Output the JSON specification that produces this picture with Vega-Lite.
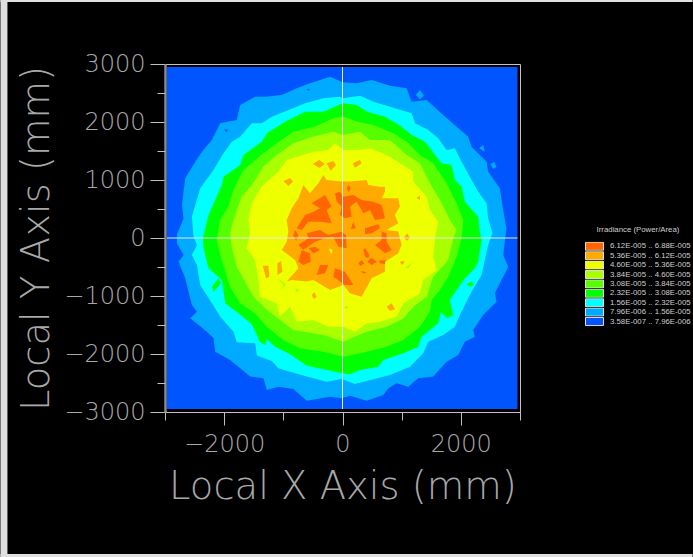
{"$schema":"https://vega.github.io/schema/vega-lite/v6.json","width":355,"height":348,"autosize":"none","padding":{"left":165,"top":64,"right":173,"bottom":145},"background":"#000000","view":{"stroke":"#c4c4c4","strokeWidth":1},"config":{"axis":{"grid":false}},"resolve":{"axis":{"x":"independent","y":"independent"}},"layer":[{"data":{"values":[{"x":-5781,"x2":-5663,"y":4103,"y2":-5500},{"x":-5781,"x2":5917,"y":4103,"y2":4069},{"x":-5781,"x2":5917,"y":-5448,"y2":-5500}]},"mark":{"type":"rect","color":"#e0e0e0"},"encoding":{"x":{"field":"x","type":"quantitative","scale":{"domain":[-3000,3000],"nice":false,"zero":false},"axis":null},"x2":{"field":"x2"},"y":{"field":"y","type":"quantitative","scale":{"domain":[-3000,3000],"nice":false,"zero":false},"axis":null},"y2":{"field":"y2"}}},{"data":{"values":[
{"band":1,"poly":1,"i":1,"x":-2966,"y":2948},{"band":1,"poly":1,"i":2,"x":2958,"y":2948},{"band":1,"poly":1,"i":3,"x":2958,"y":-2948},{"band":1,"poly":1,"i":4,"x":-2966,"y":-2948},
{"band":2,"poly":2,"i":1,"x":3,"y":2684},{"band":2,"poly":2,"i":2,"x":239,"y":2666},{"band":2,"poly":2,"i":3,"x":493,"y":2724},{"band":2,"poly":2,"i":4,"x":802,"y":2626},{"band":2,"poly":2,"i":5,"x":1083,"y":2580},{"band":2,"poly":2,"i":6,"x":1168,"y":2350},{"band":2,"poly":2,"i":7,"x":1421,"y":2379},{"band":2,"poly":2,"i":8,"x":1702,"y":2121},{"band":2,"poly":2,"i":9,"x":2124,"y":1747},{"band":2,"poly":2,"i":10,"x":2181,"y":1575},{"band":2,"poly":2,"i":11,"x":2434,"y":1316},{"band":2,"poly":2,"i":12,"x":2462,"y":1144},{"band":2,"poly":2,"i":13,"x":2659,"y":856},{"band":2,"poly":2,"i":14,"x":2715,"y":483},{"band":2,"poly":2,"i":15,"x":2771,"y":167},{"band":2,"poly":2,"i":16,"x":2743,"y":-63},{"band":2,"poly":2,"i":17,"x":2715,"y":-293},{"band":2,"poly":2,"i":18,"x":2800,"y":-494},{"band":2,"poly":2,"i":19,"x":2575,"y":-954},{"band":2,"poly":2,"i":20,"x":2603,"y":-1097},{"band":2,"poly":2,"i":21,"x":2378,"y":-1327},{"band":2,"poly":2,"i":22,"x":2209,"y":-1586},{"band":2,"poly":2,"i":23,"x":2237,"y":-1701},{"band":2,"poly":2,"i":24,"x":2068,"y":-1787},{"band":2,"poly":2,"i":25,"x":1956,"y":-2017},{"band":2,"poly":2,"i":26,"x":1759,"y":-2132},{"band":2,"poly":2,"i":27,"x":1534,"y":-2390},{"band":2,"poly":2,"i":28,"x":1280,"y":-2419},{"band":2,"poly":2,"i":29,"x":1112,"y":-2563},{"band":2,"poly":2,"i":30,"x":915,"y":-2505},{"band":2,"poly":2,"i":31,"x":774,"y":-2592},{"band":2,"poly":2,"i":32,"x":689,"y":-2707},{"band":2,"poly":2,"i":33,"x":408,"y":-2804},{"band":2,"poly":2,"i":34,"x":127,"y":-2718},{"band":2,"poly":2,"i":35,"x":-14,"y":-2764},{"band":2,"poly":2,"i":36,"x":-210,"y":-2735},{"band":2,"poly":2,"i":37,"x":-604,"y":-2804},{"band":2,"poly":2,"i":38,"x":-829,"y":-2603},{"band":2,"poly":2,"i":39,"x":-1083,"y":-2563},{"band":2,"poly":2,"i":40,"x":-1280,"y":-2620},{"band":2,"poly":2,"i":41,"x":-1336,"y":-2419},{"band":2,"poly":2,"i":42,"x":-1561,"y":-2390},{"band":2,"poly":2,"i":43,"x":-1730,"y":-2247},{"band":2,"poly":2,"i":44,"x":-1899,"y":-2103},{"band":2,"poly":2,"i":45,"x":-2152,"y":-1960},{"band":2,"poly":2,"i":46,"x":-2180,"y":-1730},{"band":2,"poly":2,"i":47,"x":-2292,"y":-1615},{"band":2,"poly":2,"i":48,"x":-2574,"y":-1385},{"band":2,"poly":2,"i":49,"x":-2461,"y":-1270},{"band":2,"poly":2,"i":50,"x":-2546,"y":-1155},{"band":2,"poly":2,"i":51,"x":-2658,"y":-695},{"band":2,"poly":2,"i":52,"x":-2771,"y":-408},{"band":2,"poly":2,"i":53,"x":-2686,"y":-293},{"band":2,"poly":2,"i":54,"x":-2799,"y":-92},{"band":2,"poly":2,"i":55,"x":-2799,"y":52},{"band":2,"poly":2,"i":56,"x":-2686,"y":339},{"band":2,"poly":2,"i":57,"x":-2714,"y":569},{"band":2,"poly":2,"i":58,"x":-2658,"y":1029},{"band":2,"poly":2,"i":59,"x":-2489,"y":1316},{"band":2,"poly":2,"i":60,"x":-2377,"y":1488},{"band":2,"poly":2,"i":61,"x":-2208,"y":1690},{"band":2,"poly":2,"i":62,"x":-2067,"y":1977},{"band":2,"poly":2,"i":63,"x":-1786,"y":2034},{"band":2,"poly":2,"i":64,"x":-1730,"y":2293},{"band":2,"poly":2,"i":65,"x":-1476,"y":2437},{"band":2,"poly":2,"i":66,"x":-1308,"y":2437},{"band":2,"poly":2,"i":67,"x":-1026,"y":2465},{"band":2,"poly":2,"i":68,"x":-773,"y":2580},{"band":2,"poly":2,"i":69,"x":-548,"y":2666},{"band":2,"poly":2,"i":70,"x":-210,"y":2781},
{"band":2,"poly":20,"i":1,"x":1241,"y":2465},{"band":2,"poly":20,"i":2,"x":1308,"y":2552},{"band":2,"poly":20,"i":3,"x":1376,"y":2454},{"band":2,"poly":20,"i":4,"x":1308,"y":2391},
{"band":2,"poly":21,"i":1,"x":2310,"y":1546},{"band":2,"poly":21,"i":2,"x":2377,"y":1603},{"band":2,"poly":21,"i":3,"x":2406,"y":1488},
{"band":2,"poly":22,"i":1,"x":2501,"y":1270},{"band":2,"poly":22,"i":2,"x":2558,"y":1316},{"band":2,"poly":22,"i":3,"x":2603,"y":1230},{"band":2,"poly":22,"i":4,"x":2546,"y":1190},
{"band":1,"poly":23,"i":1,"x":-2000,"y":1879},{"band":1,"poly":23,"i":2,"x":-1927,"y":1862},{"band":1,"poly":23,"i":3,"x":-1966,"y":1827},
{"band":1,"poly":24,"i":1,"x":-604,"y":2563},{"band":1,"poly":24,"i":2,"x":-548,"y":2563},{"band":1,"poly":24,"i":3,"x":-576,"y":2534},
{"band":3,"poly":3,"i":1,"x":3,"y":2408},{"band":3,"poly":3,"i":2,"x":296,"y":2454},{"band":3,"poly":3,"i":3,"x":521,"y":2350},{"band":3,"poly":3,"i":4,"x":802,"y":2264},{"band":3,"poly":3,"i":5,"x":1168,"y":2149},{"band":3,"poly":3,"i":6,"x":1224,"y":1977},{"band":3,"poly":3,"i":7,"x":1449,"y":1862},{"band":3,"poly":3,"i":8,"x":1618,"y":1718},{"band":3,"poly":3,"i":9,"x":1759,"y":1517},{"band":3,"poly":3,"i":10,"x":1899,"y":1546},{"band":3,"poly":3,"i":11,"x":2012,"y":1316},{"band":3,"poly":3,"i":12,"x":2181,"y":1000},{"band":3,"poly":3,"i":13,"x":2293,"y":799},{"band":3,"poly":3,"i":14,"x":2434,"y":598},{"band":3,"poly":3,"i":15,"x":2462,"y":339},{"band":3,"poly":3,"i":16,"x":2535,"y":80},{"band":3,"poly":3,"i":17,"x":2462,"y":-120},{"band":3,"poly":3,"i":18,"x":2350,"y":-638},{"band":3,"poly":3,"i":19,"x":2181,"y":-925},{"band":3,"poly":3,"i":20,"x":1984,"y":-1327},{"band":3,"poly":3,"i":21,"x":1899,"y":-1529},{"band":3,"poly":3,"i":22,"x":1702,"y":-1672},{"band":3,"poly":3,"i":23,"x":1449,"y":-1787},{"band":3,"poly":3,"i":24,"x":1365,"y":-1988},{"band":3,"poly":3,"i":25,"x":1140,"y":-2218},{"band":3,"poly":3,"i":26,"x":802,"y":-2362},{"band":3,"poly":3,"i":27,"x":408,"y":-2465},{"band":3,"poly":3,"i":28,"x":211,"y":-2517},{"band":3,"poly":3,"i":29,"x":-14,"y":-2431},{"band":3,"poly":3,"i":30,"x":-267,"y":-2477},{"band":3,"poly":3,"i":31,"x":-604,"y":-2390},{"band":3,"poly":3,"i":32,"x":-886,"y":-2304},{"band":3,"poly":3,"i":33,"x":-1083,"y":-2247},{"band":3,"poly":3,"i":34,"x":-1195,"y":-2120},{"band":3,"poly":3,"i":35,"x":-1448,"y":-2028},{"band":3,"poly":3,"i":36,"x":-1476,"y":-1816},{"band":3,"poly":3,"i":37,"x":-1786,"y":-1799},{"band":3,"poly":3,"i":38,"x":-1842,"y":-1615},{"band":3,"poly":3,"i":39,"x":-2067,"y":-1356},{"band":3,"poly":3,"i":40,"x":-2180,"y":-1166},{"band":3,"poly":3,"i":41,"x":-2405,"y":-810},{"band":3,"poly":3,"i":42,"x":-2461,"y":-465},{"band":3,"poly":3,"i":43,"x":-2546,"y":-293},{"band":3,"poly":3,"i":44,"x":-2461,"y":-120},{"band":3,"poly":3,"i":45,"x":-2517,"y":23},{"band":3,"poly":3,"i":46,"x":-2546,"y":368},{"band":3,"poly":3,"i":47,"x":-2405,"y":856},{"band":3,"poly":3,"i":48,"x":-2180,"y":1172},{"band":3,"poly":3,"i":49,"x":-2011,"y":1460},{"band":3,"poly":3,"i":50,"x":-1870,"y":1661},{"band":3,"poly":3,"i":51,"x":-1730,"y":1747},{"band":3,"poly":3,"i":52,"x":-1533,"y":1977},{"band":3,"poly":3,"i":53,"x":-1364,"y":1977},{"band":3,"poly":3,"i":54,"x":-1195,"y":2092},{"band":3,"poly":3,"i":55,"x":-914,"y":2207},{"band":3,"poly":3,"i":56,"x":-632,"y":2322},{"band":3,"poly":3,"i":57,"x":-323,"y":2408},{"band":3,"poly":3,"i":58,"x":-42,"y":2437},
{"band":4,"poly":4,"i":1,"x":3,"y":2322},{"band":4,"poly":4,"i":2,"x":239,"y":2293},{"band":4,"poly":4,"i":3,"x":436,"y":2166},{"band":4,"poly":4,"i":4,"x":718,"y":2092},{"band":4,"poly":4,"i":5,"x":999,"y":1919},{"band":4,"poly":4,"i":6,"x":1168,"y":1776},{"band":4,"poly":4,"i":7,"x":1393,"y":1661},{"band":4,"poly":4,"i":8,"x":1674,"y":1287},{"band":4,"poly":4,"i":9,"x":1843,"y":1259},{"band":4,"poly":4,"i":10,"x":1899,"y":1000},{"band":4,"poly":4,"i":11,"x":2012,"y":885},{"band":4,"poly":4,"i":12,"x":2068,"y":626},{"band":4,"poly":4,"i":13,"x":2293,"y":368},{"band":4,"poly":4,"i":14,"x":2321,"y":109},{"band":4,"poly":4,"i":15,"x":2350,"y":-34},{"band":4,"poly":4,"i":16,"x":2293,"y":-408},{"band":4,"poly":4,"i":17,"x":2237,"y":-523},{"band":4,"poly":4,"i":18,"x":2068,"y":-695},{"band":4,"poly":4,"i":19,"x":1928,"y":-896},{"band":4,"poly":4,"i":20,"x":1815,"y":-1069},{"band":4,"poly":4,"i":21,"x":1871,"y":-1327},{"band":4,"poly":4,"i":22,"x":1770,"y":-1385},{"band":4,"poly":4,"i":23,"x":1663,"y":-1281},{"band":4,"poly":4,"i":24,"x":1618,"y":-1471},{"band":4,"poly":4,"i":25,"x":1337,"y":-1701},{"band":4,"poly":4,"i":26,"x":1280,"y":-1873},{"band":4,"poly":4,"i":27,"x":1027,"y":-1988},{"band":4,"poly":4,"i":28,"x":689,"y":-2103},{"band":4,"poly":4,"i":29,"x":605,"y":-2218},{"band":4,"poly":4,"i":30,"x":296,"y":-2276},{"band":4,"poly":4,"i":31,"x":127,"y":-2350},{"band":4,"poly":4,"i":32,"x":-14,"y":-2333},{"band":4,"poly":4,"i":33,"x":-323,"y":-2264},{"band":4,"poly":4,"i":34,"x":-604,"y":-2201},{"band":4,"poly":4,"i":35,"x":-914,"y":-1988},{"band":4,"poly":4,"i":36,"x":-1139,"y":-1873},{"band":4,"poly":4,"i":37,"x":-1280,"y":-1741},{"band":4,"poly":4,"i":38,"x":-1308,"y":-1845},{"band":4,"poly":4,"i":39,"x":-1392,"y":-1799},{"band":4,"poly":4,"i":40,"x":-1533,"y":-1488},{"band":4,"poly":4,"i":41,"x":-1758,"y":-1299},{"band":4,"poly":4,"i":42,"x":-1983,"y":-1126},{"band":4,"poly":4,"i":43,"x":-2039,"y":-724},{"band":4,"poly":4,"i":44,"x":-2264,"y":-523},{"band":4,"poly":4,"i":45,"x":-2349,"y":-178},{"band":4,"poly":4,"i":46,"x":-2360,"y":-5},{"band":4,"poly":4,"i":47,"x":-2264,"y":396},{"band":4,"poly":4,"i":48,"x":-2039,"y":914},{"band":4,"poly":4,"i":49,"x":-2011,"y":1057},{"band":4,"poly":4,"i":50,"x":-1730,"y":1258},{"band":4,"poly":4,"i":51,"x":-1673,"y":1431},{"band":4,"poly":4,"i":52,"x":-1364,"y":1661},{"band":4,"poly":4,"i":53,"x":-1279,"y":1804},{"band":4,"poly":4,"i":54,"x":-970,"y":2006},{"band":4,"poly":4,"i":55,"x":-632,"y":2178},{"band":4,"poly":4,"i":56,"x":-323,"y":2178},
{"band":4,"poly":30,"i":1,"x":-2208,"y":-839},{"band":4,"poly":30,"i":2,"x":-2095,"y":-695},{"band":4,"poly":30,"i":3,"x":-2056,"y":-781},{"band":4,"poly":30,"i":4,"x":-2180,"y":-925},
{"band":4,"poly":31,"i":1,"x":2096,"y":-799},{"band":4,"poly":31,"i":2,"x":2181,"y":-753},{"band":4,"poly":31,"i":3,"x":2220,"y":-810},{"band":4,"poly":31,"i":4,"x":2153,"y":-839},
{"band":5,"poly":5,"i":1,"x":14,"y":2093},{"band":5,"poly":5,"i":2,"x":239,"y":2007},{"band":5,"poly":5,"i":3,"x":521,"y":1949},{"band":5,"poly":5,"i":4,"x":859,"y":1806},{"band":5,"poly":5,"i":5,"x":1084,"y":1662},{"band":5,"poly":5,"i":6,"x":1309,"y":1432},{"band":5,"poly":5,"i":7,"x":1534,"y":1288},{"band":5,"poly":5,"i":8,"x":1759,"y":943},{"band":5,"poly":5,"i":9,"x":1928,"y":598},{"band":5,"poly":5,"i":10,"x":2041,"y":311},{"band":5,"poly":5,"i":11,"x":2013,"y":0},{"band":5,"poly":5,"i":12,"x":1928,"y":-322},{"band":5,"poly":5,"i":13,"x":1788,"y":-667},{"band":5,"poly":5,"i":14,"x":1647,"y":-897},{"band":5,"poly":5,"i":15,"x":1506,"y":-1070},{"band":5,"poly":5,"i":16,"x":1478,"y":-1271},{"band":5,"poly":5,"i":17,"x":1309,"y":-1530},{"band":5,"poly":5,"i":18,"x":1028,"y":-1760},{"band":5,"poly":5,"i":19,"x":746,"y":-1875},{"band":5,"poly":5,"i":20,"x":408,"y":-1961},{"band":5,"poly":5,"i":21,"x":14,"y":-2047},{"band":5,"poly":5,"i":22,"x":-324,"y":-1961},{"band":5,"poly":5,"i":23,"x":-718,"y":-1903},{"band":5,"poly":5,"i":24,"x":-999,"y":-1760},{"band":5,"poly":5,"i":25,"x":-1281,"y":-1530},{"band":5,"poly":5,"i":26,"x":-1478,"y":-1300},{"band":5,"poly":5,"i":27,"x":-1731,"y":-1127},{"band":5,"poly":5,"i":28,"x":-1900,"y":-840},{"band":5,"poly":5,"i":29,"x":-2041,"y":-380},{"band":5,"poly":5,"i":30,"x":-2125,"y":-35},{"band":5,"poly":5,"i":31,"x":-2069,"y":311},{"band":5,"poly":5,"i":32,"x":-1928,"y":541},{"band":5,"poly":5,"i":33,"x":-1844,"y":828},{"band":5,"poly":5,"i":34,"x":-1675,"y":1173},{"band":5,"poly":5,"i":35,"x":-1337,"y":1461},{"band":5,"poly":5,"i":36,"x":-1112,"y":1633},{"band":5,"poly":5,"i":37,"x":-830,"y":1834},{"band":5,"poly":5,"i":38,"x":-464,"y":1921},{"band":5,"poly":5,"i":39,"x":-155,"y":2064},
{"band":6,"poly":6,"i":1,"x":14,"y":1777},{"band":6,"poly":6,"i":2,"x":296,"y":1834},{"band":6,"poly":6,"i":3,"x":464,"y":1691},{"band":6,"poly":6,"i":4,"x":802,"y":1691},{"band":6,"poly":6,"i":5,"x":1084,"y":1432},{"band":6,"poly":6,"i":6,"x":1309,"y":1288},{"band":6,"poly":6,"i":7,"x":1478,"y":943},{"band":6,"poly":6,"i":8,"x":1647,"y":656},{"band":6,"poly":6,"i":9,"x":1816,"y":311},{"band":6,"poly":6,"i":10,"x":1928,"y":138},{"band":6,"poly":6,"i":11,"x":1872,"y":0},{"band":6,"poly":6,"i":12,"x":1788,"y":-380},{"band":6,"poly":6,"i":13,"x":1534,"y":-667},{"band":6,"poly":6,"i":14,"x":1422,"y":-1012},{"band":6,"poly":6,"i":15,"x":1196,"y":-1185},{"band":6,"poly":6,"i":16,"x":1028,"y":-1386},{"band":6,"poly":6,"i":17,"x":746,"y":-1530},{"band":6,"poly":6,"i":18,"x":408,"y":-1616},{"band":6,"poly":6,"i":19,"x":14,"y":-1788},{"band":6,"poly":6,"i":20,"x":-324,"y":-1673},{"band":6,"poly":6,"i":21,"x":-830,"y":-1587},{"band":6,"poly":6,"i":22,"x":-1056,"y":-1415},{"band":6,"poly":6,"i":23,"x":-1337,"y":-1185},{"band":6,"poly":6,"i":24,"x":-1506,"y":-1012},{"band":6,"poly":6,"i":25,"x":-1788,"y":-495},{"band":6,"poly":6,"i":26,"x":-1872,"y":-150},{"band":6,"poly":6,"i":27,"x":-1900,"y":81},{"band":6,"poly":6,"i":28,"x":-1844,"y":311},{"band":6,"poly":6,"i":29,"x":-1703,"y":713},{"band":6,"poly":6,"i":30,"x":-1534,"y":914},{"band":6,"poly":6,"i":31,"x":-1337,"y":1231},{"band":6,"poly":6,"i":32,"x":-1112,"y":1432},{"band":6,"poly":6,"i":33,"x":-830,"y":1633},{"band":6,"poly":6,"i":34,"x":-493,"y":1748},{"band":6,"poly":6,"i":35,"x":-155,"y":1834},
{"band":7,"poly":7,"i":1,"x":-127,"y":1633},{"band":7,"poly":7,"i":2,"x":14,"y":1518},{"band":7,"poly":7,"i":3,"x":239,"y":1518},{"band":7,"poly":7,"i":4,"x":464,"y":1547},{"band":7,"poly":7,"i":5,"x":746,"y":1432},{"band":7,"poly":7,"i":6,"x":971,"y":1288},{"band":7,"poly":7,"i":7,"x":1196,"y":1144},{"band":7,"poly":7,"i":8,"x":1196,"y":972},{"band":7,"poly":7,"i":9,"x":1422,"y":713},{"band":7,"poly":7,"i":10,"x":1478,"y":483},{"band":7,"poly":7,"i":11,"x":1619,"y":282},{"band":7,"poly":7,"i":12,"x":1562,"y":0},{"band":7,"poly":7,"i":13,"x":1534,"y":-322},{"band":7,"poly":7,"i":14,"x":1591,"y":-552},{"band":7,"poly":7,"i":15,"x":1365,"y":-725},{"band":7,"poly":7,"i":16,"x":1309,"y":-955},{"band":7,"poly":7,"i":17,"x":1028,"y":-1127},{"band":7,"poly":7,"i":18,"x":915,"y":-1357},{"band":7,"poly":7,"i":19,"x":633,"y":-1443},{"band":7,"poly":7,"i":20,"x":408,"y":-1472},{"band":7,"poly":7,"i":21,"x":211,"y":-1616},{"band":7,"poly":7,"i":22,"x":14,"y":-1530},{"band":7,"poly":7,"i":23,"x":-239,"y":-1530},{"band":7,"poly":7,"i":24,"x":-493,"y":-1415},{"band":7,"poly":7,"i":25,"x":-774,"y":-1443},{"band":7,"poly":7,"i":26,"x":-887,"y":-1185},{"band":7,"poly":7,"i":27,"x":-1056,"y":-1357},{"band":7,"poly":7,"i":28,"x":-1112,"y":-1127},{"band":7,"poly":7,"i":29,"x":-1393,"y":-1012},{"band":7,"poly":7,"i":30,"x":-1422,"y":-725},{"band":7,"poly":7,"i":31,"x":-1478,"y":-380},{"band":7,"poly":7,"i":32,"x":-1619,"y":-178},{"band":7,"poly":7,"i":33,"x":-1562,"y":81},{"band":7,"poly":7,"i":34,"x":-1591,"y":311},{"band":7,"poly":7,"i":35,"x":-1534,"y":598},{"band":7,"poly":7,"i":36,"x":-1365,"y":886},{"band":7,"poly":7,"i":37,"x":-1084,"y":1144},{"band":7,"poly":7,"i":38,"x":-943,"y":1346},{"band":7,"poly":7,"i":39,"x":-493,"y":1489},{"band":7,"poly":7,"i":40,"x":-239,"y":1518},
{"band":6,"poly":40,"i":1,"x":-1101,"y":-695},{"band":6,"poly":40,"i":2,"x":-954,"y":-799},{"band":6,"poly":40,"i":3,"x":-1056,"y":-908},{"band":6,"poly":40,"i":4,"x":-999,"y":-810},
{"band":6,"poly":41,"i":1,"x":-802,"y":-868},{"band":6,"poly":41,"i":2,"x":-729,"y":-897},{"band":6,"poly":41,"i":3,"x":-774,"y":-943},
{"band":6,"poly":42,"i":1,"x":1056,"y":-523},{"band":6,"poly":42,"i":2,"x":1196,"y":-408},{"band":6,"poly":42,"i":3,"x":1112,"y":-523},
{"band":6,"poly":43,"i":1,"x":42,"y":-1173},{"band":6,"poly":43,"i":2,"x":110,"y":-1196},{"band":6,"poly":43,"i":3,"x":42,"y":-1225},
{"band":8,"poly":8,"i":1,"x":-324,"y":1087},{"band":8,"poly":8,"i":2,"x":-267,"y":1000},{"band":8,"poly":8,"i":3,"x":-14,"y":972},{"band":8,"poly":8,"i":4,"x":126,"y":972},{"band":8,"poly":8,"i":5,"x":408,"y":1000},{"band":8,"poly":8,"i":6,"x":436,"y":914},{"band":8,"poly":8,"i":7,"x":633,"y":885},{"band":8,"poly":8,"i":8,"x":717,"y":885},{"band":8,"poly":8,"i":9,"x":717,"y":799},{"band":8,"poly":8,"i":10,"x":661,"y":684},{"band":8,"poly":8,"i":11,"x":942,"y":684},{"band":8,"poly":8,"i":12,"x":970,"y":541},{"band":8,"poly":8,"i":13,"x":886,"y":397},{"band":8,"poly":8,"i":14,"x":942,"y":253},{"band":8,"poly":8,"i":15,"x":745,"y":138},{"band":8,"poly":8,"i":16,"x":942,"y":110},{"band":8,"poly":8,"i":17,"x":999,"y":-120},{"band":8,"poly":8,"i":18,"x":942,"y":-264},{"band":8,"poly":8,"i":19,"x":717,"y":-408},{"band":8,"poly":8,"i":20,"x":717,"y":-580},{"band":8,"poly":8,"i":21,"x":492,"y":-695},{"band":8,"poly":8,"i":22,"x":323,"y":-1011},{"band":8,"poly":8,"i":23,"x":126,"y":-954},{"band":8,"poly":8,"i":24,"x":14,"y":-810},{"band":8,"poly":8,"i":25,"x":-211,"y":-896},{"band":8,"poly":8,"i":26,"x":-493,"y":-724},{"band":8,"poly":8,"i":27,"x":-605,"y":-752},{"band":8,"poly":8,"i":28,"x":-858,"y":-724},{"band":8,"poly":8,"i":29,"x":-943,"y":-752},{"band":8,"poly":8,"i":30,"x":-746,"y":-522},{"band":8,"poly":8,"i":31,"x":-802,"y":-379},{"band":8,"poly":8,"i":32,"x":-1027,"y":-206},{"band":8,"poly":8,"i":33,"x":-943,"y":-63},{"band":8,"poly":8,"i":34,"x":-915,"y":110},{"band":8,"poly":8,"i":35,"x":-943,"y":311},{"band":8,"poly":8,"i":36,"x":-858,"y":512},{"band":8,"poly":8,"i":37,"x":-746,"y":684},{"band":8,"poly":8,"i":38,"x":-661,"y":914},{"band":8,"poly":8,"i":39,"x":-549,"y":770},{"band":8,"poly":8,"i":40,"x":-408,"y":943},
{"band":8,"poly":50,"i":1,"x":-504,"y":1277},{"band":8,"poly":50,"i":2,"x":-391,"y":1346},{"band":8,"poly":50,"i":3,"x":-296,"y":1277},{"band":8,"poly":50,"i":4,"x":-391,"y":1213},
{"band":8,"poly":51,"i":1,"x":-267,"y":1288},{"band":8,"poly":51,"i":2,"x":-155,"y":1328},{"band":8,"poly":51,"i":3,"x":-110,"y":1259},{"band":8,"poly":51,"i":4,"x":-200,"y":1156},
{"band":8,"poly":52,"i":1,"x":172,"y":1288},{"band":8,"poly":52,"i":2,"x":296,"y":1346},{"band":8,"poly":52,"i":3,"x":324,"y":1288},{"band":8,"poly":52,"i":4,"x":211,"y":1213},
{"band":8,"poly":53,"i":1,"x":-999,"y":983},{"band":8,"poly":53,"i":2,"x":-887,"y":1029},{"band":8,"poly":53,"i":3,"x":-836,"y":972},{"band":8,"poly":53,"i":4,"x":-915,"y":897},
{"band":8,"poly":54,"i":1,"x":-1348,"y":-477},{"band":8,"poly":54,"i":2,"x":-1253,"y":-477},{"band":8,"poly":54,"i":3,"x":-1237,"y":-667},{"band":8,"poly":54,"i":4,"x":-1292,"y":-696},
{"band":8,"poly":55,"i":1,"x":-1101,"y":-437},{"band":8,"poly":55,"i":2,"x":-1039,"y":-397},{"band":8,"poly":55,"i":3,"x":-1016,"y":-581},{"band":8,"poly":55,"i":4,"x":-1101,"y":-638},
{"band":8,"poly":56,"i":1,"x":746,"y":-1185},{"band":8,"poly":56,"i":2,"x":830,"y":-1127},{"band":8,"poly":56,"i":3,"x":887,"y":-1231},{"band":8,"poly":56,"i":4,"x":802,"y":-1254},
{"band":8,"poly":57,"i":1,"x":-521,"y":-983},{"band":8,"poly":57,"i":2,"x":-476,"y":-937},{"band":8,"poly":57,"i":3,"x":-436,"y":-1012},{"band":8,"poly":57,"i":4,"x":-481,"y":-1052},
{"band":8,"poly":58,"i":1,"x":971,"y":-408},{"band":8,"poly":58,"i":2,"x":1040,"y":-391},{"band":8,"poly":58,"i":3,"x":1040,"y":-437},{"band":8,"poly":58,"i":4,"x":996,"y":-466},
{"band":8,"poly":59,"i":1,"x":1040,"y":12},{"band":8,"poly":59,"i":2,"x":1096,"y":81},{"band":8,"poly":59,"i":3,"x":1140,"y":-6},{"band":8,"poly":59,"i":4,"x":1084,"y":-46},
{"band":8,"poly":60,"i":1,"x":1253,"y":684},{"band":8,"poly":60,"i":2,"x":1309,"y":742},{"band":8,"poly":60,"i":3,"x":1309,"y":656},
{"band":9,"poly":9,"i":1,"x":-296,"y":742},{"band":9,"poly":9,"i":2,"x":-183,"y":541},{"band":9,"poly":9,"i":3,"x":-267,"y":483},{"band":9,"poly":9,"i":4,"x":-183,"y":253},{"band":9,"poly":9,"i":5,"x":-380,"y":282},{"band":9,"poly":9,"i":6,"x":-577,"y":282},{"band":9,"poly":9,"i":7,"x":-689,"y":138},{"band":9,"poly":9,"i":8,"x":-774,"y":167},{"band":9,"poly":9,"i":9,"x":-633,"y":397},{"band":9,"poly":9,"i":10,"x":-492,"y":454},{"band":9,"poly":9,"i":11,"x":-380,"y":512},{"band":9,"poly":9,"i":12,"x":-521,"y":598},
{"band":9,"poly":70,"i":1,"x":-127,"y":770},{"band":9,"poly":70,"i":2,"x":-42,"y":799},{"band":9,"poly":70,"i":3,"x":14,"y":713},{"band":9,"poly":70,"i":4,"x":183,"y":742},{"band":9,"poly":70,"i":5,"x":323,"y":656},{"band":9,"poly":70,"i":6,"x":520,"y":627},{"band":9,"poly":70,"i":7,"x":661,"y":569},{"band":9,"poly":70,"i":8,"x":717,"y":339},{"band":9,"poly":70,"i":9,"x":549,"y":311},{"band":9,"poly":70,"i":10,"x":464,"y":483},{"band":9,"poly":70,"i":11,"x":352,"y":426},{"band":9,"poly":70,"i":12,"x":239,"y":627},{"band":9,"poly":70,"i":13,"x":126,"y":541},{"band":9,"poly":70,"i":14,"x":155,"y":368},{"band":9,"poly":70,"i":15,"x":42,"y":339},{"band":9,"poly":70,"i":16,"x":-42,"y":397},{"band":9,"poly":70,"i":17,"x":-14,"y":541},{"band":9,"poly":70,"i":18,"x":-98,"y":627},
{"band":9,"poly":71,"i":1,"x":-605,"y":81},{"band":9,"poly":71,"i":2,"x":-380,"y":138},{"band":9,"poly":71,"i":3,"x":-239,"y":52},{"band":9,"poly":71,"i":4,"x":-14,"y":109},{"band":9,"poly":71,"i":5,"x":59,"y":52},{"band":9,"poly":71,"i":6,"x":70,"y":-178},{"band":9,"poly":71,"i":7,"x":-70,"y":-149},{"band":9,"poly":71,"i":8,"x":-155,"y":23},{"band":9,"poly":71,"i":9,"x":-296,"y":-5},{"band":9,"poly":71,"i":10,"x":-464,"y":-63},{"band":9,"poly":71,"i":11,"x":-661,"y":-206},{"band":9,"poly":71,"i":12,"x":-746,"y":-120},{"band":9,"poly":71,"i":13,"x":-577,"y":-5},
{"band":9,"poly":72,"i":1,"x":-689,"y":-206},{"band":9,"poly":72,"i":2,"x":-549,"y":-264},{"band":9,"poly":72,"i":3,"x":-538,"y":-408},{"band":9,"poly":72,"i":4,"x":-661,"y":-465},{"band":9,"poly":72,"i":5,"x":-746,"y":-408},
{"band":9,"poly":73,"i":1,"x":-577,"y":-178},{"band":9,"poly":73,"i":2,"x":-464,"y":-149},{"band":9,"poly":73,"i":3,"x":-380,"y":-206},{"band":9,"poly":73,"i":4,"x":-492,"y":-264},
{"band":9,"poly":74,"i":1,"x":-380,"y":-465},{"band":9,"poly":74,"i":2,"x":-239,"y":-465},{"band":9,"poly":74,"i":3,"x":-296,"y":-609},{"band":9,"poly":74,"i":4,"x":-436,"y":-637},
{"band":9,"poly":75,"i":1,"x":-127,"y":-523},{"band":9,"poly":75,"i":2,"x":42,"y":-580},{"band":9,"poly":75,"i":3,"x":183,"y":-810},{"band":9,"poly":75,"i":4,"x":42,"y":-810},{"band":9,"poly":75,"i":5,"x":-155,"y":-666},
{"band":9,"poly":76,"i":1,"x":661,"y":110},{"band":9,"poly":76,"i":2,"x":745,"y":81},{"band":9,"poly":76,"i":3,"x":745,"y":-63},{"band":9,"poly":76,"i":4,"x":830,"y":-206},{"band":9,"poly":76,"i":5,"x":717,"y":-264},{"band":9,"poly":76,"i":6,"x":549,"y":-120},{"band":9,"poly":76,"i":7,"x":661,"y":-34},
{"band":9,"poly":77,"i":1,"x":380,"y":167},{"band":9,"poly":77,"i":2,"x":605,"y":236},{"band":9,"poly":77,"i":3,"x":633,"y":167},{"band":9,"poly":77,"i":4,"x":492,"y":81},{"band":9,"poly":77,"i":5,"x":380,"y":63},
{"band":9,"poly":78,"i":1,"x":183,"y":282},{"band":9,"poly":78,"i":2,"x":222,"y":167},{"band":9,"poly":78,"i":3,"x":143,"y":156},
{"band":9,"poly":79,"i":1,"x":380,"y":-166},{"band":9,"poly":79,"i":2,"x":453,"y":-293},{"band":9,"poly":79,"i":3,"x":436,"y":-350},{"band":9,"poly":79,"i":4,"x":380,"y":-322},{"band":9,"poly":79,"i":5,"x":352,"y":-206},
{"band":9,"poly":80,"i":1,"x":492,"y":-339},{"band":9,"poly":80,"i":2,"x":577,"y":-408},{"band":9,"poly":80,"i":3,"x":492,"y":-465},{"band":9,"poly":80,"i":4,"x":419,"y":-408},
{"band":9,"poly":81,"i":1,"x":323,"y":-379},{"band":9,"poly":81,"i":2,"x":368,"y":-436},{"band":9,"poly":81,"i":3,"x":306,"y":-482},{"band":9,"poly":81,"i":4,"x":267,"y":-436},
{"band":9,"poly":82,"i":1,"x":622,"y":-390},{"band":9,"poly":82,"i":2,"x":729,"y":-379},{"band":9,"poly":82,"i":3,"x":717,"y":-448},{"band":9,"poly":82,"i":4,"x":633,"y":-436},
{"band":9,"poly":83,"i":1,"x":98,"y":914},{"band":9,"poly":83,"i":2,"x":143,"y":857},{"band":9,"poly":83,"i":3,"x":98,"y":799},{"band":9,"poly":83,"i":4,"x":70,"y":857},
{"band":9,"poly":84,"i":1,"x":-802,"y":138},{"band":9,"poly":84,"i":2,"x":-746,"y":52},{"band":9,"poly":84,"i":3,"x":-785,"y":-51},{"band":9,"poly":84,"i":4,"x":-830,"y":52},
{"band":9,"poly":85,"i":1,"x":306,"y":-569},{"band":9,"poly":85,"i":2,"x":408,"y":-592},{"band":9,"poly":85,"i":3,"x":352,"y":-615},
{"band":7,"poly":90,"i":1,"x":-222,"y":-178},{"band":7,"poly":90,"i":2,"x":-166,"y":-206},{"band":7,"poly":90,"i":3,"x":-183,"y":-281},{"band":7,"poly":90,"i":4,"x":-222,"y":-224}
]},"mark":{"type":"line","stroke":null,"filled":true},"encoding":{"x":{"field":"x","type":"quantitative","scale":{"domain":[-3000,3000],"nice":false,"zero":false},"axis":{"orient":"bottom","values":[-2000,0,2000],"format":"d","title":"Local X Axis (mm)","titleFont":"DejaVu Sans","titleFontWeight":200,"titleFontSize":38.5,"titleColor":"#a8a8a8","titleBaseline":"alphabetic","titleY":86,"labelFont":"DejaVu Sans","labelFontWeight":200,"labelFontSize":24,"labelColor":"#a8a8a8","labelPadding":7,"tickSize":13,"tickColor":"#c0c0c0","domainColor":"#c0c0c0","labelOverlap":false,"labelFlush":false}},"y":{"field":"y","type":"quantitative","scale":{"domain":[-3000,3000],"nice":false,"zero":false},"axis":{"orient":"left","values":[-3000,-2000,-1000,0,1000,2000,3000],"format":"d","title":"Local Y Axis (mm)","titleFont":"DejaVu Sans","titleFontWeight":200,"titleFontSize":38.5,"titleColor":"#a8a8a8","titleBaseline":"alphabetic","titleX":-117,"labelFont":"DejaVu Sans","labelFontWeight":200,"labelFontSize":24,"labelColor":"#a8a8a8","labelPadding":5,"tickSize":15,"tickColor":"#c0c0c0","domainColor":"#8a8a8a","domainWidth":2.5,"labelOverlap":false,"labelFlush":false}},"order":{"field":"i","type":"quantitative"},"detail":{"field":"poly","type":"nominal"},"fill":{"field":"band","type":"ordinal","scale":{"domain":[9,8,7,6,5,4,3,2,1],"range":["#ff6600","#ffaa00","#eeff00","#aaff00","#55ff00","#00ff00","#00ffff","#00aaff","#0055ff"]},"legend":{"orient":"none","legendX":420,"legendY":162,"title":"Irradiance (Power/Area)","titleFont":"Liberation Sans","titleFontSize":7.8,"titleFontWeight":"normal","titleColor":"#cfcfcf","titlePadding":8,"titleAnchor":"middle","labelFont":"Liberation Sans","labelFontSize":7.8,"labelColor":"#cfcfcf","labelOffset":6,"symbolType":"M-1,-.45H1V.45H-1Z","symbolSize":324,"symbolStrokeColor":"#dddddd","symbolStrokeWidth":1,"symbolOpacity":1,"clipHeight":9,"rowPadding":0.4,"labelExpr":"{'9':'6.12E-005 .. 6.88E-005','8':'5.36E-005 .. 6.12E-005','7':'4.60E-005 .. 5.36E-005','6':'3.84E-005 .. 4.60E-005','5':'3.08E-005 .. 3.84E-005','4':'2.32E-005 .. 3.08E-005','3':'1.56E-005 .. 2.32E-005','2':'7.96E-006 .. 1.56E-005','1':'3.58E-007 .. 7.96E-006'}[datum.value]"}}}},{"data":{"values":[{"x":0,"y":2948,"y2":-2948}]},"mark":{"type":"rule","color":"#e8e8e8","strokeWidth":1},"encoding":{"x":{"field":"x","type":"quantitative","scale":{"domain":[-3000,3000],"nice":false,"zero":false},"axis":{"orient":"bottom","values":[-3000,-1000,1000,3000],"labels":false,"title":null,"tickSize":8,"tickColor":"#c0c0c0","domain":false}},"y":{"field":"y","type":"quantitative","scale":{"domain":[-3000,3000],"nice":false,"zero":false},"axis":{"orient":"left","values":[-2500,-1500,-500,500,1500,2500],"labels":false,"title":null,"tickSize":8,"tickColor":"#c0c0c0","domain":false}},"y2":{"field":"y2"}}},{"data":{"values":[{"y":0,"x":-2966,"x2":2958}]},"mark":{"type":"rule","color":"#e8e8e8","strokeWidth":1},"encoding":{"y":{"field":"y","type":"quantitative","scale":{"domain":[-3000,3000],"nice":false,"zero":false},"axis":null},"x":{"field":"x","type":"quantitative","scale":{"domain":[-3000,3000],"nice":false,"zero":false},"axis":null},"x2":{"field":"x2"}}}]}
